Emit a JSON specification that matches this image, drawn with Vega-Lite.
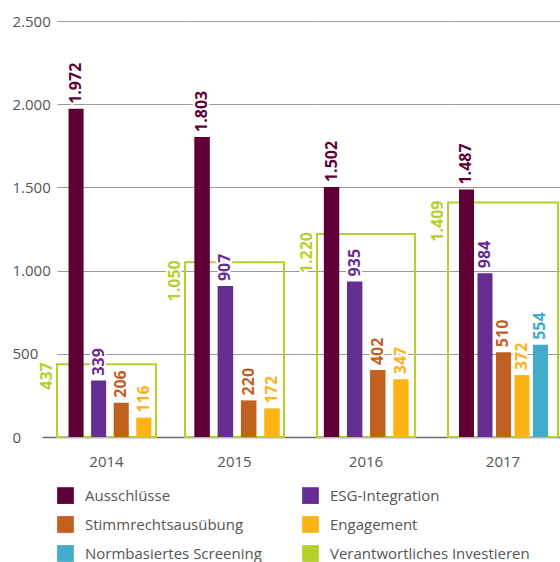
{
  "$schema": "https://vega.github.io/schema/vega-lite/v6.json",
  "padding": {"left": 12, "top": 14, "right": 0, "bottom": 0},
  "autosize": {"type": "pad"},
  "bounds": "flush",
  "background": "white",
  "data": {
    "values": [
      {"year": "2014", "cat": "Ausschlüsse", "value": 1972},
      {"year": "2014", "cat": "ESG-Integration", "value": 339},
      {"year": "2014", "cat": "Stimmrechtsausübung", "value": 206},
      {"year": "2014", "cat": "Engagement", "value": 116},
      {"year": "2014", "cat": "Verantwortliches Investieren", "value": 437},
      {"year": "2015", "cat": "Ausschlüsse", "value": 1803},
      {"year": "2015", "cat": "ESG-Integration", "value": 907},
      {"year": "2015", "cat": "Stimmrechtsausübung", "value": 220},
      {"year": "2015", "cat": "Engagement", "value": 172},
      {"year": "2015", "cat": "Verantwortliches Investieren", "value": 1050},
      {"year": "2016", "cat": "Ausschlüsse", "value": 1502},
      {"year": "2016", "cat": "ESG-Integration", "value": 935},
      {"year": "2016", "cat": "Stimmrechtsausübung", "value": 402},
      {"year": "2016", "cat": "Engagement", "value": 347},
      {"year": "2016", "cat": "Verantwortliches Investieren", "value": 1220},
      {"year": "2017", "cat": "Ausschlüsse", "value": 1487},
      {"year": "2017", "cat": "ESG-Integration", "value": 984},
      {"year": "2017", "cat": "Stimmrechtsausübung", "value": 510},
      {"year": "2017", "cat": "Engagement", "value": 372},
      {"year": "2017", "cat": "Normbasiertes Screening", "value": 554},
      {"year": "2017", "cat": "Verantwortliches Investieren", "value": 1409}
    ]
  },
  "spacing": 0,
  "hconcat": [
    {
      "width": 128, "height": 416,
      "transform": [{"filter": "datum.year == '2014'"}],
      "encoding": {
        "y": {"field": "value", "type": "quantitative", "scale": {"domain": [0, 2500], "nice": false},
          "axis": {"title": null, "values": [0, 500, 1000, 1500, 2000, 2500], "format": ",d", "domain": false,
            "labelAlign": "left", "labelBaseline": "middle", "labelPadding": 30, "tickSize": 15, "tickWidth": 1.5,
            "tickColor": {"condition": {"test": "datum.value === 0", "value": "#6b6b6b"}, "value": "transparent"},
            "grid": true, "gridColor": {"condition": {"test": "datum.value === 0", "value": "#6b6b6b"}, "value": "#9a9a9a"},
            "gridWidth": {"condition": {"test": "datum.value === 0", "value": 1.5}, "value": 1},
            "labelFontSize": 15, "labelColor": "#555555", "labelFont": "Open Sans"}}
      },
      "resolve": {"scale": {"x": "independent"}, "axis": {"x": "independent"}},
      "layer": [
        {
          "transform": [{"filter": "datum.cat == 'Verantwortliches Investieren'"}],
          "encoding": {"x": {"field": "year", "type": "nominal", "scale": {"paddingInner": 0, "paddingOuter": 0.1465, "align": 0},
            "axis": {"title": null, "ticks": false, "domain": false, "grid": false, "labelAngle": 0, "labelPadding": 17, "labelFontSize": 15, "labelColor": "#555555", "labelFont": "Open Sans"}}},
          "layer": [
            {"mark": {"type": "bar", "fill": "transparent", "stroke": "#b6cf2b", "strokeWidth": 2}},
            {"mark": {"type": "text", "angle": 270, "align": "right", "baseline": "middle", "dx": 2, "dy": -10, "font": "Open Sans", "fontWeight": "bold", "fontSize": 16, "fill": "white", "stroke": "white", "strokeWidth": 4},
             "encoding": {"x": {"field": "year", "type": "nominal", "bandPosition": 0}, "text": {"field": "value", "type": "quantitative", "format": ",d"}}},
            {"mark": {"type": "text", "angle": 270, "align": "right", "baseline": "middle", "dx": 2, "dy": -10, "font": "Open Sans", "fontWeight": "bold", "fontSize": 16, "fill": "#b6cf2b"},
             "encoding": {"x": {"field": "year", "type": "nominal", "bandPosition": 0}, "text": {"field": "value", "type": "quantitative", "format": ",d"}}}
          ]
        },
        {
          "transform": [{"filter": "datum.cat != 'Verantwortliches Investieren'"}],
          "encoding": {"x": {"field": "cat", "type": "nominal", "sort": ["Ausschlüsse", "ESG-Integration", "Stimmrechtsausübung", "Engagement", "Normbasiertes Screening"],
            "scale": {"paddingInner": 0.3333, "paddingOuter": 1.214, "align": 0.255}, "axis": null}},
          "layer": [
            {"mark": {"type": "bar"},
             "encoding": {"color": {"field": "cat", "type": "nominal", "scale": {"domain": ["Ausschlüsse", "ESG-Integration", "Stimmrechtsausübung", "Engagement", "Normbasiertes Screening", "Verantwortliches Investieren"], "range": ["#5e0035", "#662d91", "#c1601f", "#fbb316", "#41abc9", "#b6cf2b"]}, "legend": {"title": null}}}},
            {"mark": {"type": "text", "angle": 270, "align": "left", "baseline": "middle", "dx": 5, "font": "Open Sans", "fontWeight": "bold", "fontSize": 16, "fill": "white", "stroke": "white", "strokeWidth": 4},
             "encoding": {"text": {"field": "value", "type": "quantitative", "format": ",d"}}},
            {"mark": {"type": "text", "angle": 270, "align": "left", "baseline": "middle", "dx": 5, "font": "Open Sans", "fontWeight": "bold", "fontSize": 16},
             "encoding": {"text": {"field": "value", "type": "quantitative", "format": ",d"}, "color": {"field": "cat", "type": "nominal", "legend": null}}}
          ]
        }
      ]
    },
    {
      "width": 132, "height": 416,
      "transform": [{"filter": "datum.year == '2015'"}],
      "encoding": {
        "y": {"field": "value", "type": "quantitative", "scale": {"domain": [0, 2500], "nice": false},
          "axis": {"title": null, "values": [0, 500, 1000, 1500, 2000, 2500], "labels": false, "ticks": false, "domain": false,
            "grid": true, "gridColor": {"condition": {"test": "datum.value === 0", "value": "#6b6b6b"}, "value": "#9a9a9a"},
            "gridWidth": {"condition": {"test": "datum.value === 0", "value": 1.5}, "value": 1}}}
      },
      "resolve": {"scale": {"x": "independent"}, "axis": {"x": "independent"}},
      "layer": [
        {
          "transform": [{"filter": "datum.cat == 'Verantwortliches Investieren'"}],
          "encoding": {"x": {"field": "year", "type": "nominal", "scale": {"paddingInner": 0, "paddingOuter": 0.1667, "align": 0},
            "axis": {"title": null, "ticks": false, "domain": false, "grid": false, "labelAngle": 0, "labelPadding": 17, "labelFontSize": 15, "labelColor": "#555555", "labelFont": "Open Sans"}}},
          "layer": [
            {"mark": {"type": "bar", "fill": "transparent", "stroke": "#b6cf2b", "strokeWidth": 2}},
            {"mark": {"type": "text", "angle": 270, "align": "right", "baseline": "middle", "dx": 2, "dy": -10, "font": "Open Sans", "fontWeight": "bold", "fontSize": 16, "fill": "white", "stroke": "white", "strokeWidth": 4},
             "encoding": {"x": {"field": "year", "type": "nominal", "bandPosition": 0}, "text": {"field": "value", "type": "quantitative", "format": ",d"}}},
            {"mark": {"type": "text", "angle": 270, "align": "right", "baseline": "middle", "dx": 2, "dy": -10, "font": "Open Sans", "fontWeight": "bold", "fontSize": 16, "fill": "#b6cf2b"},
             "encoding": {"x": {"field": "year", "type": "nominal", "bandPosition": 0}, "text": {"field": "value", "type": "quantitative", "format": ",d"}}}
          ]
        },
        {
          "transform": [{"filter": "datum.cat != 'Verantwortliches Investieren'"}],
          "encoding": {"x": {"field": "cat", "type": "nominal", "sort": ["Ausschlüsse", "ESG-Integration", "Stimmrechtsausübung", "Engagement", "Normbasiertes Screening"],
            "scale": {"paddingInner": 0.3333, "paddingOuter": 1.31, "align": 0.2}, "axis": null}},
          "layer": [
            {"mark": {"type": "bar"},
             "encoding": {"color": {"field": "cat", "type": "nominal", "legend": {"title": null}}}},
            {"mark": {"type": "text", "angle": 270, "align": "left", "baseline": "middle", "dx": 5, "font": "Open Sans", "fontWeight": "bold", "fontSize": 16, "fill": "white", "stroke": "white", "strokeWidth": 4},
             "encoding": {"text": {"field": "value", "type": "quantitative", "format": ",d"}}},
            {"mark": {"type": "text", "angle": 270, "align": "left", "baseline": "middle", "dx": 5, "font": "Open Sans", "fontWeight": "bold", "fontSize": 16},
             "encoding": {"text": {"field": "value", "type": "quantitative", "format": ",d"}, "color": {"field": "cat", "type": "nominal", "legend": null}}}
          ]
        }
      ]
    },
    {
      "width": 131, "height": 416,
      "transform": [{"filter": "datum.year == '2016'"}],
      "encoding": {
        "y": {"field": "value", "type": "quantitative", "scale": {"domain": [0, 2500], "nice": false},
          "axis": {"title": null, "values": [0, 500, 1000, 1500, 2000, 2500], "labels": false, "ticks": false, "domain": false,
            "grid": true, "gridColor": {"condition": {"test": "datum.value === 0", "value": "#6b6b6b"}, "value": "#9a9a9a"},
            "gridWidth": {"condition": {"test": "datum.value === 0", "value": 1.5}, "value": 1}}}
      },
      "resolve": {"scale": {"x": "independent"}, "axis": {"x": "independent"}},
      "layer": [
        {
          "transform": [{"filter": "datum.cat == 'Verantwortliches Investieren'"}],
          "encoding": {"x": {"field": "year", "type": "nominal", "scale": {"paddingInner": 0, "paddingOuter": 0.168, "align": 0},
            "axis": {"title": null, "ticks": false, "domain": false, "grid": false, "labelAngle": 0, "labelPadding": 17, "labelFontSize": 15, "labelColor": "#555555", "labelFont": "Open Sans"}}},
          "layer": [
            {"mark": {"type": "bar", "fill": "transparent", "stroke": "#b6cf2b", "strokeWidth": 2}},
            {"mark": {"type": "text", "angle": 270, "align": "right", "baseline": "middle", "dx": 2, "dy": -10, "font": "Open Sans", "fontWeight": "bold", "fontSize": 16, "fill": "white", "stroke": "white", "strokeWidth": 4},
             "encoding": {"x": {"field": "year", "type": "nominal", "bandPosition": 0}, "text": {"field": "value", "type": "quantitative", "format": ",d"}}},
            {"mark": {"type": "text", "angle": 270, "align": "right", "baseline": "middle", "dx": 2, "dy": -10, "font": "Open Sans", "fontWeight": "bold", "fontSize": 16, "fill": "#b6cf2b"},
             "encoding": {"x": {"field": "year", "type": "nominal", "bandPosition": 0}, "text": {"field": "value", "type": "quantitative", "format": ",d"}}}
          ]
        },
        {
          "transform": [{"filter": "datum.cat != 'Verantwortliches Investieren'"}],
          "encoding": {"x": {"field": "cat", "type": "nominal", "sort": ["Ausschlüsse", "ESG-Integration", "Stimmrechtsausübung", "Engagement", "Normbasiertes Screening"],
            "scale": {"paddingInner": 0.3333, "paddingOuter": 1.286, "align": 0.148}, "axis": null}},
          "layer": [
            {"mark": {"type": "bar"},
             "encoding": {"color": {"field": "cat", "type": "nominal", "legend": {"title": null}}}},
            {"mark": {"type": "text", "angle": 270, "align": "left", "baseline": "middle", "dx": 5, "font": "Open Sans", "fontWeight": "bold", "fontSize": 16, "fill": "white", "stroke": "white", "strokeWidth": 4},
             "encoding": {"text": {"field": "value", "type": "quantitative", "format": ",d"}}},
            {"mark": {"type": "text", "angle": 270, "align": "left", "baseline": "middle", "dx": 5, "font": "Open Sans", "fontWeight": "bold", "fontSize": 16},
             "encoding": {"text": {"field": "value", "type": "quantitative", "format": ",d"}, "color": {"field": "cat", "type": "nominal", "legend": null}}}
          ]
        }
      ]
    },
    {
      "width": 112, "height": 416,
      "transform": [{"filter": "datum.year == '2017'"}],
      "encoding": {
        "y": {"field": "value", "type": "quantitative", "scale": {"domain": [0, 2500], "nice": false},
          "axis": {"title": null, "values": [0, 500, 1000, 1500, 2000, 2500], "labels": false, "ticks": false, "domain": false,
            "grid": true, "gridColor": {"condition": {"test": "datum.value === 0", "value": "#6b6b6b"}, "value": "#9a9a9a"},
            "gridWidth": {"condition": {"test": "datum.value === 0", "value": 1.5}, "value": 1}}}
      },
      "resolve": {"scale": {"x": "independent"}, "axis": {"x": "independent"}},
      "layer": [
        {
          "transform": [{"filter": "datum.cat == 'Verantwortliches Investieren'"}],
          "encoding": {"x": {"field": "year", "type": "nominal", "scale": {"paddingInner": 0, "paddingOuter": 0.0091, "align": 0},
            "axis": {"title": null, "ticks": false, "domain": false, "grid": false, "labelAngle": 0, "labelPadding": 17, "labelFontSize": 15, "labelColor": "#555555", "labelFont": "Open Sans"}}},
          "layer": [
            {"mark": {"type": "bar", "fill": "transparent", "stroke": "#b6cf2b", "strokeWidth": 2}},
            {"mark": {"type": "text", "angle": 270, "align": "right", "baseline": "middle", "dx": 2, "dy": -10, "font": "Open Sans", "fontWeight": "bold", "fontSize": 16, "fill": "white", "stroke": "white", "strokeWidth": 4},
             "encoding": {"x": {"field": "year", "type": "nominal", "bandPosition": 0}, "text": {"field": "value", "type": "quantitative", "format": ",d"}}},
            {"mark": {"type": "text", "angle": 270, "align": "right", "baseline": "middle", "dx": 2, "dy": -10, "font": "Open Sans", "fontWeight": "bold", "fontSize": 16, "fill": "#b6cf2b"},
             "encoding": {"x": {"field": "year", "type": "nominal", "bandPosition": 0}, "text": {"field": "value", "type": "quantitative", "format": ",d"}}}
          ]
        },
        {
          "transform": [{"filter": "datum.cat != 'Verantwortliches Investieren'"}],
          "encoding": {"x": {"field": "cat", "type": "nominal", "sort": ["Ausschlüsse", "ESG-Integration", "Stimmrechtsausübung", "Engagement", "Normbasiertes Screening"],
            "scale": {"paddingInner": 0.189, "paddingOuter": 0.6216, "align": 0.478}, "axis": null}},
          "layer": [
            {"mark": {"type": "bar"},
             "encoding": {"color": {"field": "cat", "type": "nominal", "legend": {"title": null}}}},
            {"mark": {"type": "text", "angle": 270, "align": "left", "baseline": "middle", "dx": 5, "font": "Open Sans", "fontWeight": "bold", "fontSize": 16, "fill": "white", "stroke": "white", "strokeWidth": 4},
             "encoding": {"text": {"field": "value", "type": "quantitative", "format": ",d"}}},
            {"mark": {"type": "text", "angle": 270, "align": "left", "baseline": "middle", "dx": 5, "font": "Open Sans", "fontWeight": "bold", "fontSize": 16},
             "encoding": {"text": {"field": "value", "type": "quantitative", "format": ",d"}, "color": {"field": "cat", "type": "nominal", "legend": null}}}
          ]
        }
      ]
    }
  ],
  "config": {
    "view": {"stroke": null},
    "locale": {"number": {"decimal": ",", "thousands": ".", "grouping": [3], "currency": ["", " €"]}},
    "legend": {"orient": "bottom", "columns": 2, "symbolType": "square", "symbolSize": 280, "symbolStrokeWidth": 0,
      "labelFontSize": 15, "labelColor": "#555555", "labelFont": "Open Sans", "labelOffset": 11, "rowPadding": 12, "columnPadding": 40, "offset": 18, "labelLimit": 400}
  }
}
